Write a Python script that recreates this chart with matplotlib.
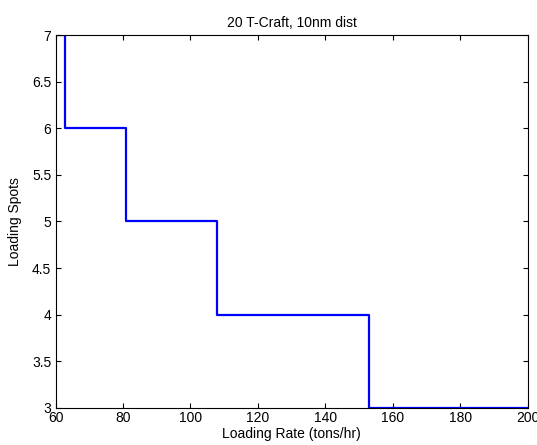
import matplotlib
matplotlib.use("Agg")
import matplotlib.pyplot as plt

# step points
rate = [60, 62.9, 80.9, 107.8, 152.85, 200]
spots = [7, 6, 5, 4, 3, 3]

plt.rcParams["font.family"] = ["Liberation Sans", "DejaVu Sans"]
plt.rcParams["font.size"] = 10

fig = plt.figure(figsize=(5.37, 4.45), dpi=100)
ax = fig.add_axes([0.1034, 0.0838, 0.8793, 0.8369])
ax.step(rate, spots, where="post", color="#0000ff", linewidth=1.6)

ax.set_xlim(60, 200)
ax.set_ylim(3, 7)
ax.set_xticks(range(60, 201, 20))
ax.set_yticks([3, 3.5, 4, 4.5, 5, 5.5, 6, 6.5, 7])
ax.set_yticklabels(["3", "3.5", "4", "4.5", "5", "5.5", "6", "6.5", "7"])
ax.tick_params(direction="in", top=True, right=True, length=3.5, width=0.8)
ax.tick_params(axis="x", pad=2.5)
ax.tick_params(axis="y", pad=3)
for s in ax.spines.values():
    s.set_linewidth(0.8)

ax.set_title("20 T-Craft, 10nm dist", fontsize=10, pad=6)
ax.set_xlabel("Loading Rate (tons/hr)", labelpad=1.5)
ax.set_ylabel("Loading Spots", labelpad=7)

fig.savefig("out.png", dpi=100)
